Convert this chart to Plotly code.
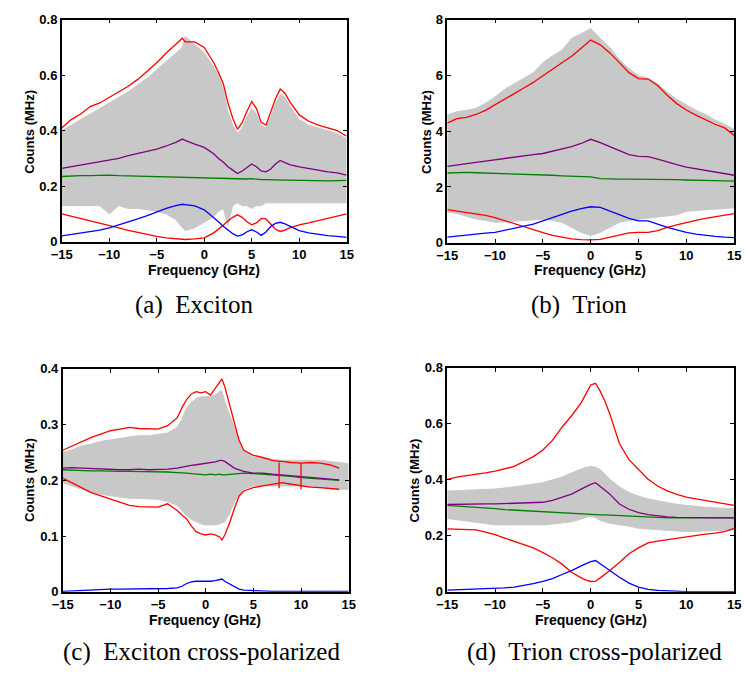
import plotly.graph_objects as go

W, H = 748, 682

# ---------------- Panel (a) Exciton ----------------
freq_a = [-15, -14, -13, -12, -11, -10, -9, -8, -7, -6, -5, -4, -3, -2.3, -2, -1, 0, 1, 1.5, 2,
          2.5, 3, 3.5, 4, 4.5, 5, 5.5, 6, 6.5, 7, 7.5, 8, 8.5, 9, 10, 11, 12, 13, 14, 15]
red_up_a = [0.41, 0.44, 0.46, 0.487, 0.50, 0.52, 0.54, 0.56, 0.585, 0.615, 0.645, 0.68, 0.71, 0.733, 0.72,
            0.72, 0.70, 0.645, 0.61, 0.57, 0.50, 0.445, 0.405, 0.43, 0.47, 0.505, 0.48, 0.43, 0.42, 0.47,
            0.515, 0.55, 0.535, 0.505, 0.457, 0.434, 0.42, 0.41, 0.40, 0.38]
red_lo_a = [0.10, 0.092, 0.084, 0.076, 0.068, 0.059, 0.05, 0.041, 0.033, 0.026, 0.019, 0.014, 0.011, 0.009,
            0.008, 0.01, 0.014, 0.032, 0.045, 0.059, 0.075, 0.088, 0.097, 0.088, 0.072, 0.061, 0.068, 0.084,
            0.082, 0.065, 0.045, 0.037, 0.042, 0.05, 0.061, 0.068, 0.076, 0.085, 0.094, 0.10]
purple_a = [0.264, 0.27, 0.276, 0.283, 0.288, 0.293, 0.30, 0.31, 0.318, 0.325, 0.334, 0.345, 0.358, 0.37,
            0.365, 0.352, 0.34, 0.317, 0.30, 0.287, 0.27, 0.258, 0.246, 0.255, 0.268, 0.28, 0.27, 0.255,
            0.252, 0.262, 0.28, 0.293, 0.285, 0.278, 0.27, 0.265, 0.258, 0.252, 0.248, 0.24]
green_a = [0.235, 0.237, 0.238, 0.238, 0.24, 0.24, 0.238, 0.237, 0.236, 0.236, 0.235, 0.234, 0.233, 0.232,
           0.232, 0.231, 0.229, 0.229, 0.228, 0.228, 0.228, 0.227, 0.227, 0.226, 0.226, 0.227, 0.225, 0.224,
           0.224, 0.223, 0.223, 0.222, 0.222, 0.222, 0.221, 0.221, 0.22, 0.219, 0.22, 0.221]
blue_a = [0.021, 0.026, 0.03, 0.035, 0.042, 0.05, 0.06, 0.07, 0.082, 0.094, 0.107, 0.12, 0.13, 0.135, 0.134,
          0.129, 0.115, 0.088, 0.072, 0.056, 0.042, 0.029, 0.02, 0.025, 0.036, 0.043, 0.035, 0.023, 0.035,
          0.055, 0.066, 0.07, 0.064, 0.055, 0.04, 0.032, 0.026, 0.022, 0.019, 0.016]
gray_up_a = [0.40, 0.42, 0.44, 0.46, 0.48, 0.50, 0.52, 0.54, 0.565, 0.59, 0.62, 0.65, 0.68, 0.70, 0.74,
             0.71, 0.68, 0.63, 0.60, 0.55, 0.47, 0.42, 0.39, 0.41, 0.45, 0.48, 0.46, 0.42, 0.41, 0.45,
             0.50, 0.53, 0.52, 0.49, 0.44, 0.42, 0.41, 0.40, 0.39, 0.37]
gray_lo_a = [0.13, 0.13, 0.13, 0.13, 0.13, 0.10, 0.13, 0.12, 0.12, 0.115, 0.11, 0.10, 0.08, 0.05, 0.04,
             0.05, 0.07, 0.09, 0.11, 0.12, 0.06, 0.13, 0.14, 0.13, 0.13, 0.12, 0.13, 0.13, 0.14, 0.14,
             0.14, 0.14, 0.14, 0.14, 0.14, 0.14, 0.14, 0.14, 0.14, 0.14]

# ---------------- Panel (b) Trion ----------------
freq_b = list(range(-15, 16))
red_up_b = [4.29, 4.45, 4.5, 4.6, 4.75, 4.94, 5.15, 5.35, 5.55, 5.75, 5.99, 6.22, 6.46, 6.69, 6.98, 7.27,
            7.1, 6.81, 6.46, 6.1, 5.89, 5.87, 5.64, 5.29, 4.99, 4.76, 4.58, 4.41, 4.25, 4.12, 3.85]
red_lo_b = [1.19, 1.14, 1.1, 1.05, 0.98, 0.9, 0.79, 0.67, 0.56, 0.46, 0.36, 0.26, 0.19, 0.14, 0.11, 0.1,
            0.12, 0.2, 0.29, 0.35, 0.37, 0.37, 0.43, 0.55, 0.64, 0.73, 0.8, 0.87, 0.93, 0.99, 1.04]
purple_b = [2.74, 2.78, 2.83, 2.88, 2.93, 2.98, 3.02, 3.07, 3.11, 3.16, 3.2, 3.28, 3.36, 3.45, 3.56, 3.71,
            3.59, 3.45, 3.3, 3.16, 3.1, 3.09, 3.0, 2.89, 2.8, 2.71, 2.65, 2.6, 2.53, 2.47, 2.42]
green_b = [2.5, 2.52, 2.52, 2.51, 2.5, 2.5, 2.49, 2.48, 2.46, 2.45, 2.44, 2.42, 2.4, 2.39, 2.38, 2.36,
           2.3, 2.28, 2.28, 2.28, 2.28, 2.27, 2.27, 2.27, 2.26, 2.25, 2.25, 2.24, 2.23, 2.22, 2.21]
blue_b = [0.2, 0.24, 0.27, 0.3, 0.34, 0.37, 0.44, 0.51, 0.59, 0.67, 0.78, 0.9, 1.02, 1.13, 1.22, 1.29,
          1.27, 1.13, 0.99, 0.87, 0.78, 0.78, 0.67, 0.55, 0.46, 0.37, 0.31, 0.26, 0.23, 0.2, 0.18]
gray_up_b = [4.58, 4.7, 4.75, 4.82, 5.0, 5.23, 5.5, 5.7, 5.9, 6.1, 6.46, 6.7, 6.9, 7.33, 7.5, 7.68,
             7.33, 7.0, 6.57, 6.25, 5.99, 5.9, 5.7, 5.4, 5.15, 4.94, 4.75, 4.6, 4.4, 4.25, 4.06]
gray_lo_b = [1.1, 1.05, 0.95, 0.85, 0.8, 0.73, 0.75, 0.78, 0.8, 0.82, 0.84, 0.8, 0.73, 0.55, 0.37, 0.26,
             0.37, 0.55, 0.73, 0.8, 0.84, 0.88, 0.9, 0.96, 1.0, 1.13, 1.15, 1.18, 1.2, 1.22, 1.25]

# ---------------- Panel (c) Exciton cross-polarized ----------------
freq_c = [-15, -14, -13, -12, -11, -10, -9, -8, -7, -6, -5, -4, -3, -2.5, -2, -1.5, -1, -0.5, 0, 0.5,
          1, 1.5, 1.7, 2, 2.5, 3, 3.5, 4, 5, 6, 7, 7.7, 8, 9, 10, 11, 12, 13, 14, 15]
red_up_c = [0.254, 0.262, 0.269, 0.277, 0.283, 0.289, 0.292, 0.295, 0.293, 0.292, 0.292, 0.298, 0.312,
            0.33, 0.345, 0.355, 0.359, 0.357, 0.359, 0.353, 0.365, 0.375, 0.382, 0.368, 0.336, 0.30, 0.272,
            0.254, 0.245, 0.241, 0.236, 0.234, 0.234, 0.232, 0.231, 0.232, 0.231, 0.228, 0.222, None]
red_lo_c = [0.204, 0.195, 0.187, 0.178, 0.172, 0.166, 0.16, 0.155, 0.153, 0.152, 0.152, 0.158, 0.146,
            0.138, 0.131, 0.118, 0.108, 0.104, 0.102, 0.104, 0.102, 0.098, 0.093, 0.102, 0.123, 0.149, 0.172,
            0.181, 0.187, 0.19, 0.193, 0.196, 0.196, 0.193, 0.19, 0.188, 0.187, 0.186, 0.184, None]
purple_c = [0.222, 0.223, 0.222, 0.221, 0.22, 0.219, 0.219, 0.219, 0.22, 0.219, 0.219, 0.22, 0.222, 0.224,
            0.225, 0.227, 0.228, 0.229, 0.231, 0.231, 0.233, 0.236, 0.236, 0.234, 0.228, 0.222, 0.219, 0.216,
            0.213, 0.213, 0.211, 0.21, 0.21, 0.208, 0.207, 0.206, 0.204, 0.202, 0.201, None]
green_c = [0.219, 0.218, 0.218, 0.217, 0.217, 0.216, 0.216, 0.216, 0.216, 0.216, 0.216, 0.215, 0.214, 0.214,
           0.213, 0.212, 0.211, 0.211, 0.21, 0.211, 0.21, 0.211, 0.21, 0.21, 0.211, 0.212, 0.212, 0.213,
           0.212, 0.211, 0.21, 0.209, 0.208, 0.207, 0.205, 0.204, 0.203, 0.201, 0.2, None]
blue_c = [0.001, 0.002, 0.003, 0.003, 0.004, 0.005, 0.005, 0.005, 0.006, 0.006, 0.006, 0.006, 0.007, 0.01,
          0.015, 0.018, 0.019, 0.019, 0.018, 0.019, 0.02, 0.022, 0.023, 0.019, 0.014, 0.009, 0.005, 0.003,
          0.002, 0.001, 0.001, 0.001, 0.001, 0.001, 0.001, 0.001, 0.001, 0.001, 0.001, 0.001]
gray_up_c = [0.25, 0.255, 0.262, 0.265, 0.27, 0.272, 0.275, 0.278, 0.28, 0.28, 0.283, 0.285, 0.295, 0.31,
             0.33, 0.34, 0.347, 0.35, 0.35, 0.352, 0.353, 0.36, 0.36, 0.342, 0.32, 0.295, 0.27, 0.254, 0.242,
             0.24, 0.238, 0.236, 0.236, 0.236, 0.236, 0.236, 0.236, 0.234, 0.232, 0.23]
gray_lo_c = [0.196, 0.19, 0.183, 0.178, 0.175, 0.172, 0.17, 0.168, 0.167, 0.166, 0.166, 0.162, 0.155, 0.146,
             0.137, 0.13, 0.126, 0.122, 0.12, 0.12, 0.12, 0.122, 0.124, 0.126, 0.14, 0.161, 0.175, 0.184, 0.19,
             0.19, 0.19, 0.19, 0.19, 0.19, 0.19, 0.188, 0.186, 0.185, 0.184, 0.184]
# short vertical red glitches seen in panel (c)
glitch_x_c = [7.7, 10.0]
glitch_lo_c = [0.186, 0.184]
glitch_hi_c = [0.232, 0.231]

# ---------------- Panel (d) Trion cross-polarized ----------------
freq_d = [-15, -14, -13, -12, -11, -10, -9, -8, -7, -6, -5, -4, -3, -2, -1, -0.5, 0, 0.5, 1, 1.5, 2,
          3, 4, 5, 6, 7, 8, 9, 10, 11, 12, 13, 14, 15]
red_up_d = [0.402, 0.41, 0.415, 0.419, 0.425, 0.431, 0.44, 0.448, 0.465, 0.483, 0.507, 0.541, 0.588, 0.629,
            0.675, 0.71, 0.739, 0.745, 0.716, 0.68, 0.635, 0.53, 0.472, 0.437, 0.402, 0.378, 0.361, 0.348,
            0.338, 0.332, 0.326, 0.32, 0.314, 0.309]
red_lo_d = [0.225, 0.223, 0.222, 0.221, 0.213, 0.204, 0.192, 0.18, 0.168, 0.157, 0.14, 0.122, 0.099, 0.07,
            0.05, 0.042, 0.037, 0.038, 0.05, 0.062, 0.076, 0.105, 0.136, 0.157, 0.175, 0.181, 0.186, 0.192,
            0.198, 0.202, 0.206, 0.21, 0.215, 0.227]
purple_d = [0.312, 0.313, 0.314, 0.314, 0.314, 0.314, 0.315, 0.316, 0.317, 0.318, 0.32, 0.327, 0.338, 0.349,
            0.367, 0.376, 0.384, 0.39, 0.378, 0.363, 0.349, 0.314, 0.295, 0.283, 0.276, 0.271, 0.268, 0.266,
            0.265, 0.265, 0.264, 0.264, 0.264, 0.264]
green_d = [0.309, 0.307, 0.305, 0.302, 0.3, 0.297, 0.294, 0.292, 0.29, 0.287, 0.285, 0.283, 0.281, 0.279,
           0.278, 0.277, 0.276, 0.276, 0.275, 0.275, 0.274, 0.272, 0.27, 0.268, 0.267, 0.265, 0.264, 0.264,
           0.264, 0.264, 0.264, 0.264, 0.264, 0.265]
blue_d = [0.006, 0.007, 0.008, 0.009, 0.01, 0.012, 0.014, 0.017, 0.022, 0.029, 0.037, 0.047, 0.062, 0.076,
          0.093, 0.1, 0.108, 0.112, 0.101, 0.09, 0.076, 0.052, 0.031, 0.017, 0.009, 0.005, 0.003, 0.002,
          0.001, 0.001, 0.001, 0.001, 0.001, 0.001]
gray_up_d = [0.36, 0.362, 0.364, 0.365, 0.366, 0.367, 0.37, 0.375, 0.38, 0.385, 0.39, 0.4, 0.41, 0.425,
             0.44, 0.445, 0.448, 0.445, 0.437, 0.42, 0.402, 0.375, 0.355, 0.342, 0.332, 0.325, 0.318, 0.313,
             0.309, 0.305, 0.302, 0.3, 0.298, 0.297]
gray_lo_d = [0.262, 0.258, 0.252, 0.248, 0.244, 0.239, 0.239, 0.239, 0.239, 0.239, 0.239, 0.242, 0.245, 0.25,
             0.26, 0.265, 0.27, 0.265, 0.255, 0.25, 0.245, 0.24, 0.235, 0.227, 0.225, 0.222, 0.22, 0.218,
             0.215, 0.216, 0.218, 0.22, 0.22, 0.221]

x_ticks = [-15, -10, -5, 0, 5, 10, 15]
captions = ["(a)  Exciton", "(b)  Trion", "(c)  Exciton cross-polarized", "(d)  Trion cross-polarized"]

RED, PURPLE, GREEN, BLUE, GRAY = "#ff0000", "#800080", "#008000", "#0000ff", "#c8c8c8"
SANS = "Liberation Sans"

panels = [
    dict(x=freq_a, gu=gray_up_a, gl=gray_lo_a, ru=red_up_a, rl=red_lo_a, p=purple_a, g=green_a, b=blue_a,
         yr=[0, 0.8], yt=[0, 0.2, 0.4, 0.6, 0.8], box=(52, 344, 13, 240)),
    dict(x=freq_b, gu=gray_up_b, gl=gray_lo_b, ru=red_up_b, rl=red_lo_b, p=purple_b, g=green_b, b=blue_b,
         yr=[0, 8], yt=[0, 2, 4, 6, 8], box=(447, 741, 13, 241)),
    dict(x=freq_c, gu=gray_up_c, gl=gray_lo_c, ru=red_up_c, rl=red_lo_c, p=purple_c, g=green_c, b=blue_c,
         yr=[0, 0.4], yt=[0, 0.1, 0.2, 0.3, 0.4], box=(53, 346, 370, 598)),
    dict(x=freq_d, gu=gray_up_d, gl=gray_lo_d, ru=red_up_d, rl=red_lo_d, p=purple_d, g=green_d, b=blue_d,
         yr=[0, 0.8], yt=[0, 0.2, 0.4, 0.6, 0.8], box=(447, 741, 369, 598)),
]

# pixel positions for labels
xtitle_pos = [(198, 269), (593, 269), (199, 627), (594, 627)]
ytitle_pos = [(19, 128), (425, 128), (19, 484), (413, 484)]
caption_pos = [(188, 305), (582, 305), (195, 660), (598, 660)]


def px(x):
    return x / W


def py(y):
    return 1 - y / H


fig = go.Figure()
layout = dict(width=W, height=H, autosize=False, margin=dict(l=0, r=0, t=0, b=0),
              paper_bgcolor="white", plot_bgcolor="white", showlegend=False)
annotations = []
tickfont = dict(family=SANS, size=13, color="black", weight="bold")

for i, P in enumerate(panels):
    n = "" if i == 0 else str(i + 1)
    xa, ya = "x" + n, "y" + n
    x0, x1, y0, y1 = P["box"]
    common = dict(showline=True, linecolor="black", linewidth=1.5, mirror="ticks", ticks="inside",
                  ticklen=4, tickwidth=1.2, tickcolor="black", showgrid=False, zeroline=False,
                  tickfont=tickfont)
    layout["xaxis" + n] = dict(domain=[px(x0), px(x1)], anchor=ya, range=[-15, 15],
                               tickvals=x_ticks, **common)
    layout["yaxis" + n] = dict(domain=[py(y1), py(y0)], anchor=xa, range=P["yr"],
                               tickvals=P["yt"], **common)
    # gray raw-data band
    fig.add_trace(go.Scatter(x=P["x"], y=P["gl"], mode="lines", line=dict(color=GRAY, width=1),
                             xaxis=xa, yaxis=ya, hoverinfo="skip"))
    fig.add_trace(go.Scatter(x=P["x"], y=P["gu"], mode="lines", line=dict(color=GRAY, width=1),
                             fill="tonexty", fillcolor=GRAY, xaxis=xa, yaxis=ya, hoverinfo="skip"))
    for key, col in [("g", GREEN), ("p", PURPLE), ("ru", RED), ("rl", RED), ("b", BLUE)]:
        fig.add_trace(go.Scatter(x=P["x"], y=P[key], mode="lines", line=dict(color=col, width=1.3),
                                 xaxis=xa, yaxis=ya, connectgaps=False))
    if i == 2:
        gx, gy = [], []
        for xv, lo, hi in zip(glitch_x_c, glitch_lo_c, glitch_hi_c):
            gx += [xv, xv, None]
            gy += [lo, hi, None]
        fig.add_trace(go.Scatter(x=gx, y=gy, mode="lines", line=dict(color=RED, width=1.3),
                                 xaxis=xa, yaxis=ya))
    tx, ty = xtitle_pos[i]
    annotations.append(dict(text="Frequency (GHz)", x=px(tx), y=py(ty), xref="paper", yref="paper",
                            showarrow=False, xanchor="center", yanchor="middle",
                            font=dict(family=SANS, size=14, color="black", weight="bold")))
    tx, ty = ytitle_pos[i]
    annotations.append(dict(text="Counts (MHz)", x=px(tx), y=py(ty), xref="paper", yref="paper",
                            showarrow=False, xanchor="center", yanchor="middle", textangle=-90,
                            font=dict(family=SANS, size=13, color="black", weight="bold")))
    tx, ty = caption_pos[i]
    annotations.append(dict(text=captions[i], x=px(tx), y=py(ty), xref="paper", yref="paper",
                            showarrow=False, xanchor="center", yanchor="middle",
                            font=dict(family="Liberation Serif", size=25, color="black")))

layout["annotations"] = annotations
fig.update_layout(**layout)
fig.write_html("out.html")
